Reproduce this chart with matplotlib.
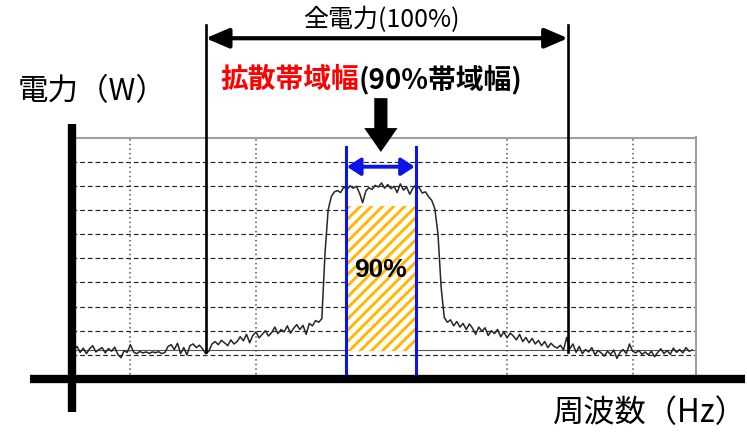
import numpy as np
import matplotlib.pyplot as plt
from matplotlib.patches import FancyArrow, Rectangle

plt.rcParams['font.family'] = ['Noto Sans CJK JP', 'DejaVu Sans']
plt.rcParams['hatch.linewidth'] = 2.1

# spectrum analyser trace: x in grid units (20 per division), y in divisions
freq = np.arange(-9.0, 90.0, 0.5)
power = [
    1.20, 1.35, 1.10, 1.28, 1.05, 1.25, 1.38, 1.12, 1.22, 1.30,
    1.08, 1.26, 1.15, 1.32, 1.02, 0.88, 1.18, 1.10, 1.42, 1.12,
    1.05, 1.14, 1.08, 1.12, 1.06, 1.12, 1.09, 1.13, 1.05, 1.10,
    1.35, 1.42, 1.22, 1.48, 1.05, 1.30, 1.00, 1.38, 1.45, 1.30,
    1.40, 1.25, 1.05, 1.15, 1.45, 1.55, 1.42, 1.60, 1.50, 1.38,
    1.62, 1.45, 1.55, 1.75, 1.58, 1.85, 1.50, 1.80, 1.95, 1.70,
    1.85, 2.00, 1.78, 1.92, 2.15, 1.88, 2.05, 1.95, 2.20, 1.90,
    2.10, 2.25, 2.05, 2.22, 1.85, 2.30, 2.20, 2.42, 2.35, 2.50,
    5.20, 7.00, 7.55, 7.75, 7.80, 7.72, 7.95, 7.85, 8.00, 7.90,
    7.98, 7.70, 7.30, 7.78, 7.92, 7.85, 8.02, 7.95, 8.12, 7.90,
    8.05, 7.88, 7.98, 7.72, 8.08, 7.82, 7.95, 7.65, 7.90, 8.05,
    7.92, 7.70, 7.75, 7.55, 7.40, 7.05, 6.00, 3.80, 2.55, 2.35,
    2.45, 2.20, 2.38, 2.15, 2.30, 2.05, 2.28, 2.10, 1.85, 2.15,
    1.98, 2.12, 1.80, 2.00, 1.88, 2.05, 1.75, 1.95, 1.70, 1.90,
    1.78, 1.62, 1.85, 1.55, 1.72, 1.50, 1.68, 1.45, 1.60, 1.38,
    1.55, 1.30, 1.48, 1.35, 1.28, 1.40, 1.20, 1.72, 1.25, 1.45,
    1.10, 1.35, 1.05, 1.22, 1.12, 1.30, 1.00, 1.18, 1.08, 0.95,
    1.15, 1.02, 1.20, 0.85, 1.10, 1.22, 1.05, 1.45, 1.15, 1.08,
    1.18, 1.02, 1.12, 1.00, 1.15, 0.92, 1.10, 1.25, 1.05, 1.18,
    1.02, 1.28, 1.10, 1.22, 1.08, 1.30, 1.15, 1.20,
]

floor_level = 1.22
total_band = (12.0, 69.7)      # 全電力 (100%)
band_90 = (34.3, 45.5)         # 90% 帯域幅
band_90_top = 7.15
dotted_x = [0, 20, 60, 80]
dashed_y = [1, 2, 3, 4, 5, 6, 7, 8, 9]

fig = plt.figure(figsize=(7.47, 4.32), dpi=100)
ax = fig.add_axes([72/747, 53/432, 624/747, 241.5/432])
ax.set_xlim(-9.3, 90.1)
ax.set_ylim(0, 10)
ax.set_xticks([])
ax.set_yticks([])
for s in ['left', 'bottom']:
    ax.spines[s].set_visible(False)
for s in ['top', 'right']:
    ax.spines[s].set_color('#a0a0a0')
    ax.spines[s].set_linewidth(1.5)

# grid
for y in dashed_y:
    ax.axhline(y, color='#222222', lw=0.85, ls=(0, (4, 2.5)), zorder=1)
for x in dotted_x:
    ax.axvline(x, color='#555555', lw=1.1, ls=(0, (1, 2)), zorder=1)
ax.axhline(floor_level, color='#555555', lw=0.8, zorder=1)

# 90% band, hatched
ax.add_patch(Rectangle((band_90[0], floor_level - 0.07), band_90[1] - band_90[0],
                       band_90_top - floor_level + 0.07, facecolor='white',
                       edgecolor='#FFB800', hatch='///', lw=0, zorder=2))

ax.plot(freq, power, color='#262626', lw=1.1, zorder=3)

# thick axes
ax.plot([-9.3, -9.3], [10.55, -1.37], color='black', lw=6, solid_capstyle='butt',
        clip_on=False, zorder=6)
ax.plot([-16.0, 97.9], [0, 0], color='black', lw=6, solid_capstyle='butt',
        clip_on=False, zorder=6)

# total power markers
for x in total_band:
    ax.plot([x, x], [1.1, 14.65], color='black', lw=1.9, clip_on=False, zorder=4)
ax.annotate('', xy=(total_band[0], 14.11), xytext=(total_band[1], 14.11),
            arrowprops=dict(arrowstyle='<|-|>,head_length=14,head_width=6',
                            mutation_scale=1, lw=3, color='black',
                            shrinkA=0, shrinkB=0),
            annotation_clip=False, zorder=5)

# 90% band markers
for x in band_90:
    ax.plot([x, x], [0, 9.6], color='#0a14e6', lw=2.2, clip_on=False, zorder=4)
ax.annotate('', xy=(band_90[0] + 0.2, 8.79), xytext=(band_90[1] - 0.2, 8.79),
            arrowprops=dict(arrowstyle='<|-|>,head_length=8,head_width=5.2',
                            mutation_scale=1, lw=2.8, color='#0a14e6',
                            shrinkA=0, shrinkB=0),
            annotation_clip=False, zorder=5)

mid = (band_90[0] + band_90[1]) / 2
ax.add_patch(FancyArrow(mid, 11.63, 0, -2.23, width=2.1, head_width=5.3,
                        head_length=0.99, length_includes_head=True,
                        color='black', lw=0, clip_on=False, zorder=5))

ax.text(mid, 4.5, '90%', ha='center', va='center', fontsize=19,
        fontweight='bold', family=['Liberation Sans'], zorder=6)

# labels
fig.text(381/747, 1 - 20/432, '全電力(100%)', ha='center', va='center', fontsize=18)
t1 = fig.text(220/747, 1 - 80/432, '拡散帯域幅', ha='left', va='center',
              fontsize=20, fontweight='bold', color='#ff0000')
ax.annotate('(90%帯域幅)', xy=(1, 0), xycoords=t1, ha='left', va='bottom',
            fontsize=20, fontweight='bold', color='black', annotation_clip=False)
fig.text(18/747, 1 - 92/432, '電力（W）', ha='left', va='center', fontsize=22)
fig.text(553/747, 1 - 413/432, '周波数（Hz）', ha='left', va='center', fontsize=22.5)

fig.savefig('out.png', dpi=100, facecolor='white')
